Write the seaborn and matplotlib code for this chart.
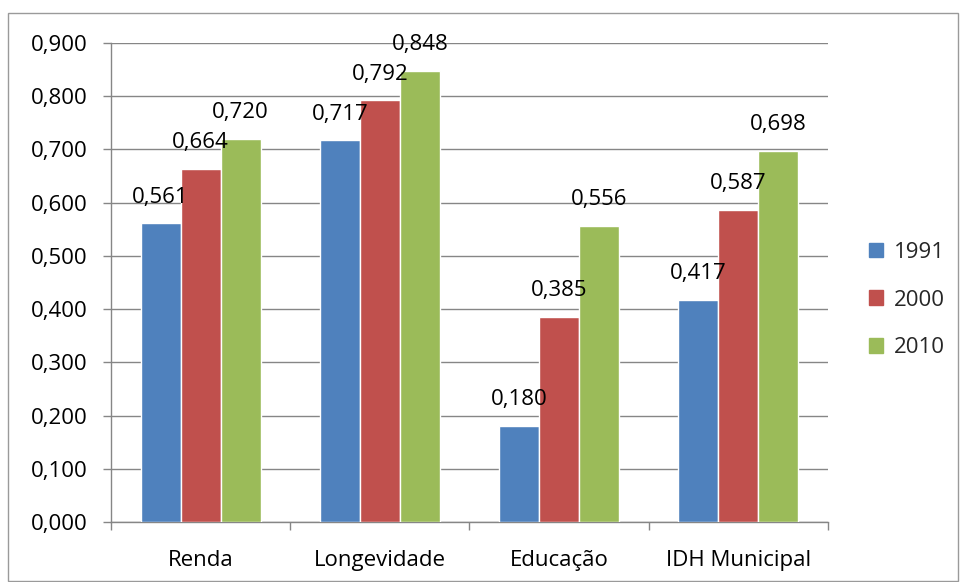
import matplotlib
matplotlib.use("Agg")
import matplotlib.pyplot as plt
from matplotlib.patches import Rectangle
from matplotlib.ticker import FuncFormatter, MultipleLocator, FixedLocator
import seaborn as sns
import pandas as pd

categories = ["Renda", "Longevidade", "Educação", "IDH Municipal"]
years = ["1991", "2000", "2010"]
values_1991 = [0.561, 0.717, 0.180, 0.417]
values_2000 = [0.664, 0.792, 0.385, 0.587]
values_2010 = [0.720, 0.848, 0.556, 0.698]
colors = ["#4F81BD", "#C0504D", "#9BBB59"]

rows = []
for year, vals in zip(years, [values_1991, values_2000, values_2010]):
    for cat, v in zip(categories, vals):
        rows.append({"Dimensão": cat, "Ano": year, "IDH": v})
df = pd.DataFrame(rows)

sns.set_theme(style="white")
plt.rcParams["font.family"] = ["Open Sans", "DejaVu Sans"]
FS = 16

fig = plt.figure(figsize=(9.6, 5.82), dpi=100)
ax = fig.add_axes([111 / 960, 60 / 582, 717 / 960, 479 / 582])

sns.barplot(data=df, x="Dimensão", y="IDH", hue="Ano", order=categories,
            hue_order=years, palette=colors, width=0.67, saturation=1,
            errorbar=None, ax=ax, legend=False, zorder=3)

ax.set_xlim(-0.5, 3.5)
ax.set_ylim(0, 0.9)
ax.yaxis.set_major_locator(MultipleLocator(0.1))
ax.yaxis.set_major_formatter(FuncFormatter(lambda v, p: f"{v:.3f}".replace(".", ",")))
ax.grid(axis="y", color="#868686", linewidth=1.0, zorder=0)
ax.set_axisbelow(True)
ax.set_xlabel("")
ax.set_ylabel("")

for side in ["top", "right"]:
    ax.spines[side].set_visible(False)
for side in ["left", "bottom"]:
    ax.spines[side].set_color("#868686")
    ax.spines[side].set_linewidth(1.0)

ax.tick_params(axis="y", which="major", length=6, width=1.0, color="#868686",
               labelsize=FS, pad=11, left=True, labelcolor="black")
ax.tick_params(axis="x", which="major", length=0, labelsize=FS, pad=20,
               labelcolor="black")
ax.xaxis.set_minor_locator(FixedLocator([-0.5, 0.5, 1.5, 2.5, 3.5]))
ax.tick_params(axis="x", which="minor", length=6, width=1.0, color="#868686",
               bottom=True)

# value labels above each bar
for container in ax.containers:
    for bar in container:
        h = bar.get_height()
        ax.annotate(f"{h:.3f}".replace(".", ","),
                    (bar.get_x() + bar.get_width() / 2, h),
                    xytext=(0, 19), textcoords="offset points",
                    ha="center", va="center", fontsize=FS, color="black",
                    zorder=5)

handles = [Rectangle((0, 0), 1, 1, color=c) for c in colors]
fig.legend(handles, years, loc="center left", bbox_to_anchor=(869 / 960, 0.4845),
           frameon=False, fontsize=FS, handlelength=0.65, handleheight=0.65,
           handletextpad=0.45, labelspacing=1.2, borderpad=0, borderaxespad=0)

# outer chart border
fig.patches.append(Rectangle((8 / 960, 1 / 582), 950 / 960, 568 / 582,
                             transform=fig.transFigure, fill=False,
                             edgecolor="#9a9a9a", linewidth=1.0))

fig.savefig("out.png", dpi=100)
